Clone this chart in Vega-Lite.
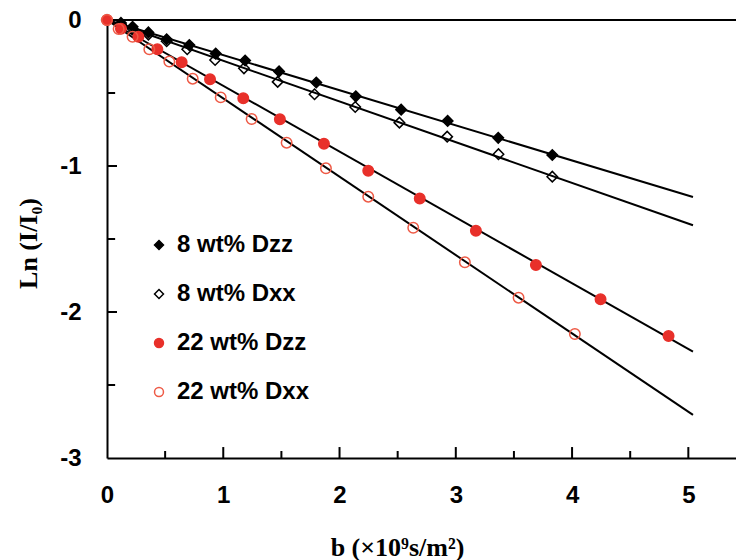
{
  "$schema": "https://vega.github.io/schema/vega-lite/v6.json",
  "width": 629,
  "height": 438,
  "autosize": {"type": "none"},
  "padding": {"left": 107, "top": 20, "right": 0, "bottom": 102},
  "background": "white",
  "config": {"view": {"stroke": null}, "font": "Liberation Sans", "axis": {"grid": false, "tickColor": "black", "tickWidth": 2, "domainColor": "black", "domainWidth": 2}},
  "datasets": {
    "fits": [
      {"series": "8 wt% Dzz", "x": 0, "y": 0},
      {"series": "8 wt% Dzz", "x": 5.04, "y": -1.212},
      {"series": "8 wt% Dxx", "x": 0, "y": 0},
      {"series": "8 wt% Dxx", "x": 5.04, "y": -1.406},
      {"series": "22 wt% Dzz", "x": 0, "y": 0},
      {"series": "22 wt% Dzz", "x": 5.04, "y": -2.272},
      {"series": "22 wt% Dxx", "x": 0, "y": 0},
      {"series": "22 wt% Dxx", "x": 5.04, "y": -2.705}
    ],
    "top": [{"y": 0}],
    "xmajor": [{"x": 1}, {"x": 2}, {"x": 3}, {"x": 4}, {"x": 5}],
    "xminor": [{"x": 0.5}, {"x": 1.5}, {"x": 2.5}, {"x": 3.5}, {"x": 4.5}],
    "ymajor": [{"y": -1}, {"y": -2}],
    "yminor": [{"y": -0.5}, {"y": -1.5}, {"y": -2.5}],
    "points": [
      {"series": "8 wt% Dzz", "x": 0, "y": 0},
      {"series": "8 wt% Dzz", "x": 0.12, "y": -0.02},
      {"series": "8 wt% Dzz", "x": 0.22, "y": -0.046},
      {"series": "8 wt% Dzz", "x": 0.356, "y": -0.085},
      {"series": "8 wt% Dzz", "x": 0.513, "y": -0.132},
      {"series": "8 wt% Dzz", "x": 0.708, "y": -0.172},
      {"series": "8 wt% Dzz", "x": 0.935, "y": -0.23},
      {"series": "8 wt% Dzz", "x": 1.188, "y": -0.277},
      {"series": "8 wt% Dzz", "x": 1.48, "y": -0.352},
      {"series": "8 wt% Dzz", "x": 1.8, "y": -0.428},
      {"series": "8 wt% Dzz", "x": 2.14, "y": -0.523},
      {"series": "8 wt% Dzz", "x": 2.53, "y": -0.614},
      {"series": "8 wt% Dzz", "x": 2.93, "y": -0.691},
      {"series": "8 wt% Dzz", "x": 3.365, "y": -0.807},
      {"series": "8 wt% Dzz", "x": 3.83, "y": -0.925},
      {"series": "8 wt% Dxx", "x": 0, "y": 0},
      {"series": "8 wt% Dxx", "x": 0.12, "y": -0.03},
      {"series": "8 wt% Dxx", "x": 0.22, "y": -0.06},
      {"series": "8 wt% Dxx", "x": 0.356, "y": -0.1},
      {"series": "8 wt% Dxx", "x": 0.513, "y": -0.145},
      {"series": "8 wt% Dxx", "x": 0.69, "y": -0.2},
      {"series": "8 wt% Dxx", "x": 0.93, "y": -0.274},
      {"series": "8 wt% Dxx", "x": 1.178, "y": -0.331},
      {"series": "8 wt% Dxx", "x": 1.468, "y": -0.424},
      {"series": "8 wt% Dxx", "x": 1.785, "y": -0.509},
      {"series": "8 wt% Dxx", "x": 2.135, "y": -0.596},
      {"series": "8 wt% Dxx", "x": 2.515, "y": -0.703},
      {"series": "8 wt% Dxx", "x": 2.926, "y": -0.799},
      {"series": "8 wt% Dxx", "x": 3.367, "y": -0.919},
      {"series": "8 wt% Dxx", "x": 3.83, "y": -1.073},
      {"series": "22 wt% Dzz", "x": 0, "y": 0},
      {"series": "22 wt% Dzz", "x": 0.12, "y": -0.06},
      {"series": "22 wt% Dzz", "x": 0.27, "y": -0.114},
      {"series": "22 wt% Dzz", "x": 0.433, "y": -0.201},
      {"series": "22 wt% Dzz", "x": 0.642, "y": -0.29},
      {"series": "22 wt% Dzz", "x": 0.886, "y": -0.406},
      {"series": "22 wt% Dzz", "x": 1.172, "y": -0.536},
      {"series": "22 wt% Dzz", "x": 1.487, "y": -0.68},
      {"series": "22 wt% Dzz", "x": 1.866, "y": -0.847},
      {"series": "22 wt% Dzz", "x": 2.247, "y": -1.032},
      {"series": "22 wt% Dzz", "x": 2.69, "y": -1.222},
      {"series": "22 wt% Dzz", "x": 3.173, "y": -1.443},
      {"series": "22 wt% Dzz", "x": 3.689, "y": -1.678},
      {"series": "22 wt% Dzz", "x": 4.245, "y": -1.913},
      {"series": "22 wt% Dzz", "x": 4.83, "y": -2.164},
      {"series": "22 wt% Dxx", "x": 0, "y": 0},
      {"series": "22 wt% Dxx", "x": 0.1, "y": -0.062},
      {"series": "22 wt% Dxx", "x": 0.22, "y": -0.115},
      {"series": "22 wt% Dxx", "x": 0.364, "y": -0.201},
      {"series": "22 wt% Dxx", "x": 0.536, "y": -0.285},
      {"series": "22 wt% Dxx", "x": 0.737, "y": -0.402},
      {"series": "22 wt% Dxx", "x": 0.978, "y": -0.53},
      {"series": "22 wt% Dxx", "x": 1.244, "y": -0.678},
      {"series": "22 wt% Dxx", "x": 1.545, "y": -0.84},
      {"series": "22 wt% Dxx", "x": 1.883, "y": -1.016},
      {"series": "22 wt% Dxx", "x": 2.247, "y": -1.21},
      {"series": "22 wt% Dxx", "x": 2.634, "y": -1.423},
      {"series": "22 wt% Dxx", "x": 3.078, "y": -1.66},
      {"series": "22 wt% Dxx", "x": 3.54, "y": -1.902},
      {"series": "22 wt% Dxx", "x": 4.024, "y": -2.151}
    ]
  },
  "layer": [
    {
      "data": {"name": "fits"},
      "mark": {"type": "line", "color": "black", "strokeWidth": 2},
      "encoding": {
        "x": {
          "field": "x",
          "type": "quantitative",
          "scale": {"domain": [0, 5.41], "nice": false, "zero": false},
          "axis": {
            "orient": "bottom",
            "values": [0, 1, 2, 3, 4, 5],
            "format": "d",
            "ticks": false,
            "labelFont": "Liberation Sans",
            "labelFontSize": 24,
            "labelFontWeight": "bold",
            "labelColor": "black",
            "labelPadding": 25,
            "labelFlush": false,
            "labelOverlap": false,
            "title": "b (×10⁹s/m²)",
            "titleFont": "Liberation Serif",
            "titleFontSize": 26,
            "titleFontWeight": "bold",
            "titleColor": "black",
            "titleX": 290,
            "titleY": 97,
            "titleAlign": "center",
            "titleBaseline": "alphabetic"
          }
        },
        "y": {
          "field": "y",
          "type": "quantitative",
          "scale": {"domain": [-3, 0], "nice": false, "zero": false},
          "axis": {
            "orient": "left",
            "values": [0, -1, -2, -3],
            "labelExpr": "datum.value < 0 ? '-' + format(-datum.value, 'd') : '0'",
            "ticks": false,
            "labelFont": "Liberation Sans",
            "labelFontSize": 24,
            "labelFontWeight": "bold",
            "labelColor": "black",
            "labelPadding": 26,
            "labelFlush": false,
            "labelOverlap": false,
            "title": "Ln (I/I₀)",
            "titleFont": "Liberation Serif",
            "titleFontSize": 26,
            "titleFontWeight": "bold",
            "titleColor": "black",
            "titleAngle": -90,
            "titleX": -79,
            "titleY": 223,
            "titleAlign": "center",
            "titleBaseline": "middle"
          }
        },
        "detail": {"field": "series"}
      }
    },
    {
      "data": {"name": "top"},
      "mark": {"type": "rule", "color": "black", "strokeWidth": 2},
      "encoding": {
        "y": {"field": "y", "type": "quantitative"}
      }
    },
    {
      "data": {"name": "xmajor"},
      "mark": {"type": "rule", "color": "black", "strokeWidth": 2},
      "encoding": {
        "x": {"field": "x", "type": "quantitative"},
        "y": {"datum": -3, "type": "quantitative"},
        "y2": {"datum": -2.925}
      }
    },
    {
      "data": {"name": "xminor"},
      "mark": {"type": "rule", "color": "black", "strokeWidth": 2},
      "encoding": {
        "x": {"field": "x", "type": "quantitative"},
        "y": {"datum": -3, "type": "quantitative"},
        "y2": {"datum": -2.952}
      }
    },
    {
      "data": {"name": "ymajor"},
      "mark": {"type": "rule", "color": "black", "strokeWidth": 2},
      "encoding": {
        "y": {"field": "y", "type": "quantitative"},
        "x": {"datum": 0, "type": "quantitative"},
        "x2": {"datum": 0.086}
      }
    },
    {
      "data": {"name": "yminor"},
      "mark": {"type": "rule", "color": "black", "strokeWidth": 2},
      "encoding": {
        "y": {"field": "y", "type": "quantitative"},
        "x": {"datum": 0, "type": "quantitative"},
        "x2": {"datum": 0.07}
      }
    },
    {
      "data": {"name": "points"},
      "mark": {"type": "point", "size": 110, "strokeWidth": 1.5, "opacity": 1},
      "encoding": {
        "x": {"field": "x", "type": "quantitative"},
        "y": {"field": "y", "type": "quantitative"},
        "shape": {
          "field": "series",
          "type": "nominal",
          "scale": {
            "domain": ["8 wt% Dzz", "8 wt% Dxx", "22 wt% Dzz", "22 wt% Dxx"],
            "range": ["diamond", "diamond", "circle", "circle"]
          },
          "legend": {
            "title": null,
            "orient": "none",
            "legendX": 40,
            "legendY": 213,
            "padding": 0,
            "labelFont": "Liberation Sans",
            "labelFontSize": 24,
            "labelFontWeight": "bold",
            "labelColor": "black",
            "labelLimit": 400,
            "labelOffset": 6,
            "symbolSize": 80,
            "symbolStrokeWidth": 1.5,
            "rowPadding": 25
          }
        },
        "fill": {
          "field": "series",
          "type": "nominal",
          "scale": {
            "domain": ["8 wt% Dzz", "8 wt% Dxx", "22 wt% Dzz", "22 wt% Dxx"],
            "range": ["black", "transparent", "#e8302a", "transparent"]
          },
          "legend": {"title": null}
        },
        "stroke": {
          "field": "series",
          "type": "nominal",
          "scale": {
            "domain": ["8 wt% Dzz", "8 wt% Dxx", "22 wt% Dzz", "22 wt% Dxx"],
            "range": ["black", "black", "#e8302a", "#ee5a46"]
          },
          "legend": {"title": null}
        }
      }
    }
  ]
}
